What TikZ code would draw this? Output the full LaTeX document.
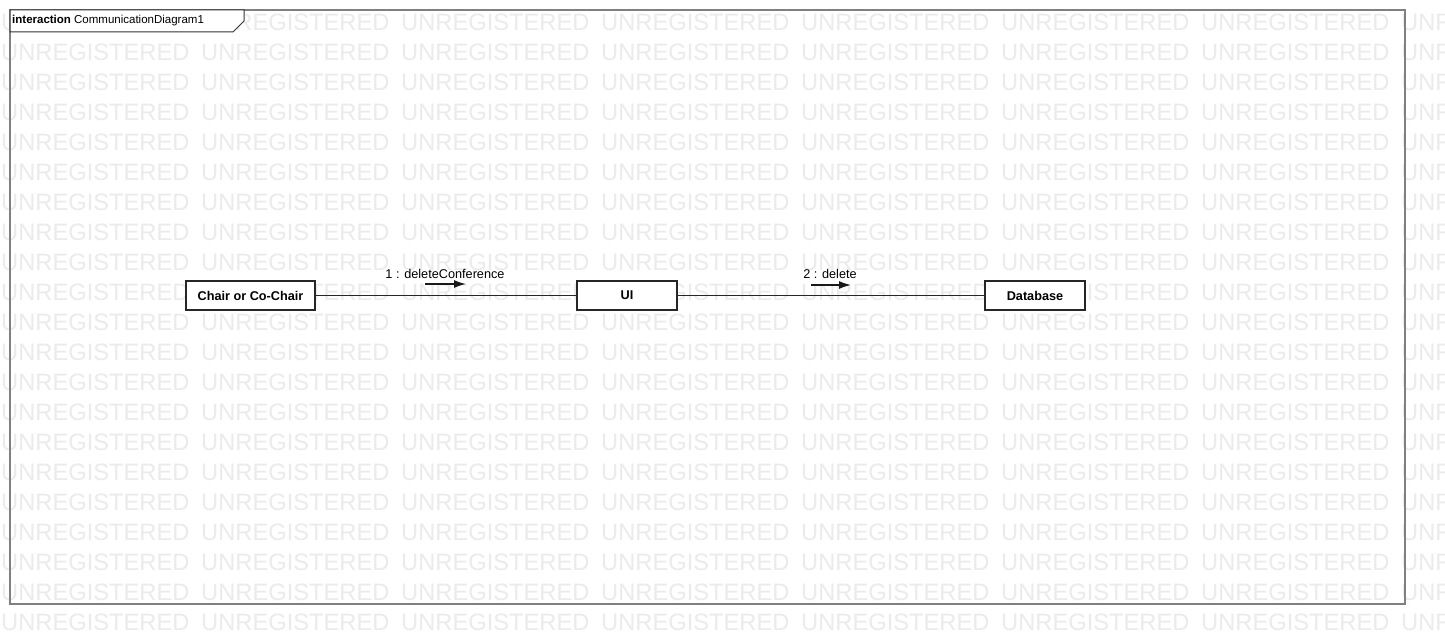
\documentclass[tikz,border=0pt]{standalone}
\usepackage{fontspec}
\setmainfont{Liberation Sans}
\usetikzlibrary{arrows.meta}
\tikzset{
  wm/.style={anchor=west, inner sep=0pt, text=black!8, font=\fontsize{23.7}{24}\selectfont},
  obj/.style={draw=black!85, line width=1.6pt, fill=white, minimum height=29pt, inner sep=0pt, font=\fontsize{12.7}{14}\selectfont\bfseries},
  link/.style={draw=black!85, line width=1.8pt},
  msg/.style={inner sep=0pt, font=\fontsize{12.7}{14}\selectfont},
  msgarrow/.style={draw=black!90, line width=1.4pt, -{Latex[length=12pt, width=8pt]}},
}
\begin{document}
\begin{tikzpicture}[x=1pt,y=-1pt]
\useasboundingbox (0,0) rectangle (1445,644);
\fill[white] (0,0) rectangle (1445,644);
\begin{scope}
\clip (0,0) rectangle (1445,644);
\foreach \r in {0,...,20} {
  \foreach \c in {0,...,7} {
    \node[wm] at (\c*200+1, 22+\r*30) {UNREGISTERED};
  }
}
\end{scope}
% frame
\draw[draw=black!50, line width=2pt] (10,10) rectangle (1405,604);
\draw[draw=black!80, line width=1pt, fill=white] (10,10) -- (244,10) -- (244,21) -- (233,32) -- (10,32) -- cycle;
\node[anchor=west, inner sep=0pt, font=\fontsize{11.5}{13}\selectfont] (title) at (12,21) {\textbf{interaction} CommunicationDiagram1};
% objects
\node[obj, minimum width=129pt] (chair) at (250.5,295.5) {Chair or Co-Chair};
\node[obj, minimum width=100pt] (ui) at (627,295.5) {UI};
\node[obj, minimum width=100pt] (db) at (1035,295.5) {Database};
% links
\draw[link] (chair) -- (ui);
\draw[link] (ui) -- (db);
% messages
\node[msg] (m1) at (445,274) {1 : deleteConference};
\coordinate (a1s) at (425,284);
\coordinate (a1e) at (466,284);
\draw[msgarrow] (a1s) -- (a1e);
\node[msg] (m2) at (830,274) {2 : delete};
\coordinate (a2s) at (811,285);
\coordinate (a2e) at (851,285);
\draw[msgarrow] (a2s) -- (a2e);
\end{tikzpicture}
\end{document}
